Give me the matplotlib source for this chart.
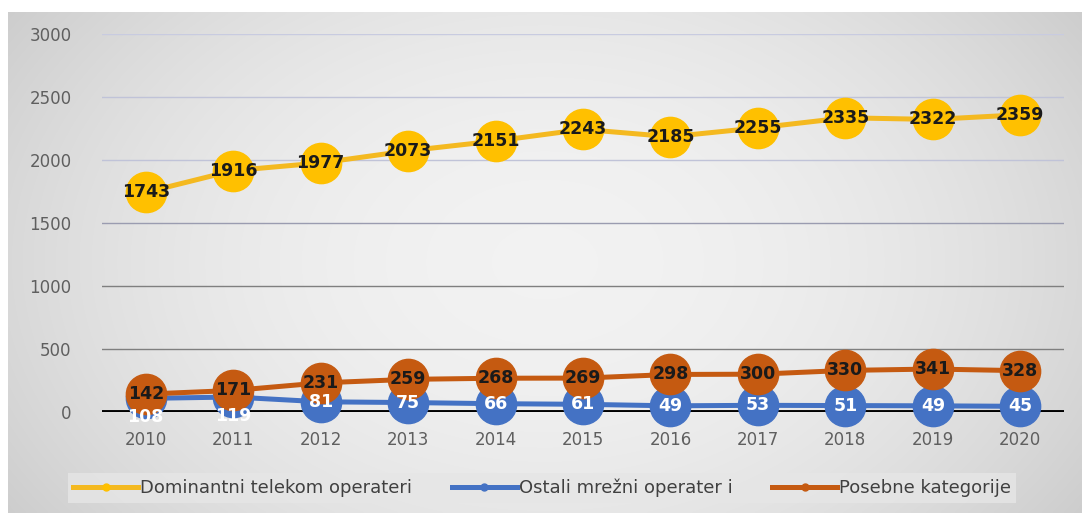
import matplotlib
matplotlib.use("Agg")
import matplotlib.pyplot as plt
import numpy as np
from matplotlib.lines import Line2D

years = ["2010", "2011", "2012", "2013", "2014", "2015", "2016", "2017", "2018", "2019", "2020"]
dominantni = [1743, 1916, 1977, 2073, 2151, 2243, 2185, 2255, 2335, 2322, 2359]
ostali = [108, 119, 81, 75, 66, 61, 49, 53, 51, 49, 45]
posebne = [142, 171, 231, 259, 268, 269, 298, 300, 330, 341, 328]
series_names = ["Dominantni telekom operateri", "Ostali mrežni operater i", "Posebne kategorije"]
yticks = [0, 500, 1000, 1500, 2000, 2500, 3000]

c_yel = "#ffc000"
c_yel_line = "#f4b920"
c_blue = "#4472c4"
c_orng = "#c55a11"

W, H = 1082, 513
fig = plt.figure(figsize=(W / 100, H / 100), dpi=100)
fig.patch.set_facecolor("white")

# gradient background
bg = fig.add_axes([8 / W, 0, 1 - 8 / W, 1 - 12 / H], zorder=-10)
nx, ny = 400, 200
xx, yy = np.meshgrid(np.linspace(-1, 1, nx), np.linspace(-1, 1, ny))
r2 = (xx / 1.0) ** 2 + (yy / 1.5) ** 2
val = 0.95 - 0.10 * r2
val = np.clip(val, 0.80, 0.95)
bg.imshow(np.dstack([val, val, val]), aspect="auto", extent=[0, 1, 0, 1], interpolation="bilinear")
bg.axis("off")

ax = fig.add_axes([102 / W, 1 - 412 / H, (1064 - 102) / W, (412 - 34) / H])
ax.set_facecolor("none")
x = np.arange(len(years))

ax.set_ylim(0, 3000)
ax.set_xlim(-0.5, len(years) - 0.5)
grid_cols = {500: "#7f7f7f", 1000: "#7f7f7f", 1500: "#9a9cb0", 2000: "#c0c3d8", 2500: "#c0c3d8", 3000: "#c8cbe0"}
for yt in yticks[1:]:
    ax.axhline(yt, color=grid_cols[yt], lw=1.0, zorder=1)
ax.axhline(0, color="black", lw=2.8, zorder=2)

ms = 29
ax.plot(x, dominantni, color=c_yel_line, lw=3.6, marker="o", ms=ms, mfc=c_yel, mec=c_yel, zorder=3)
ax.plot(x, ostali, color=c_blue, lw=3.6, marker="o", ms=ms, mfc=c_blue, mec=c_blue, zorder=4, clip_on=False)
ax.plot(x, posebne, color=c_orng, lw=3.6, marker="o", ms=ms, mfc=c_orng, mec=c_orng, zorder=5, clip_on=False)

lab_font = dict(fontsize=12.5, fontweight="bold", ha="center", va="center", family="DejaVu Sans")
for i, v in enumerate(dominantni):
    ax.text(i, v, str(v), color="#1a1a1a", zorder=10, **lab_font)
for i, v in enumerate(posebne):
    ax.text(i, v, str(v), color="#1a1a1a", zorder=10, **lab_font)
for i, v in enumerate(ostali):
    yv = v if i >= 2 else v - 150
    ax.text(i, yv, str(v), color="white", zorder=11, clip_on=False, **lab_font)

ax.set_yticks(yticks)
ax.set_yticklabels([str(t) for t in yticks])
ax.set_xticks(x)
ax.set_xticklabels(years)
ax.tick_params(axis="both", length=0, labelsize=12, labelcolor="#5f5f5f")
ax.tick_params(axis="y", pad=22)
ax.tick_params(axis="x", pad=14)
for s in ax.spines.values():
    s.set_visible(False)

handles = [
    Line2D([0], [0], color=c_yel_line, lw=3.6, marker="o", ms=5, mfc=c_yel, mec=c_yel),
    Line2D([0], [0], color=c_blue, lw=3.6, marker="o", ms=5, mfc=c_blue, mec=c_blue),
    Line2D([0], [0], color=c_orng, lw=3.6, marker="o", ms=5, mfc=c_orng, mec=c_orng),
]
leg = fig.legend(handles, series_names, loc="center", bbox_to_anchor=(542 / W, 1 - 488 / H),
                 ncol=3, frameon=True, fontsize=13, handlelength=3.6, handletextpad=0.1,
                 columnspacing=2.2, borderpad=0.3)
leg.get_frame().set_facecolor("#e6e6e6")
leg.get_frame().set_edgecolor("none")
leg.get_frame().set_boxstyle("square", pad=0.0)
for t in leg.get_texts():
    t.set_color("#404040")

fig.savefig("out.png", dpi=100)
